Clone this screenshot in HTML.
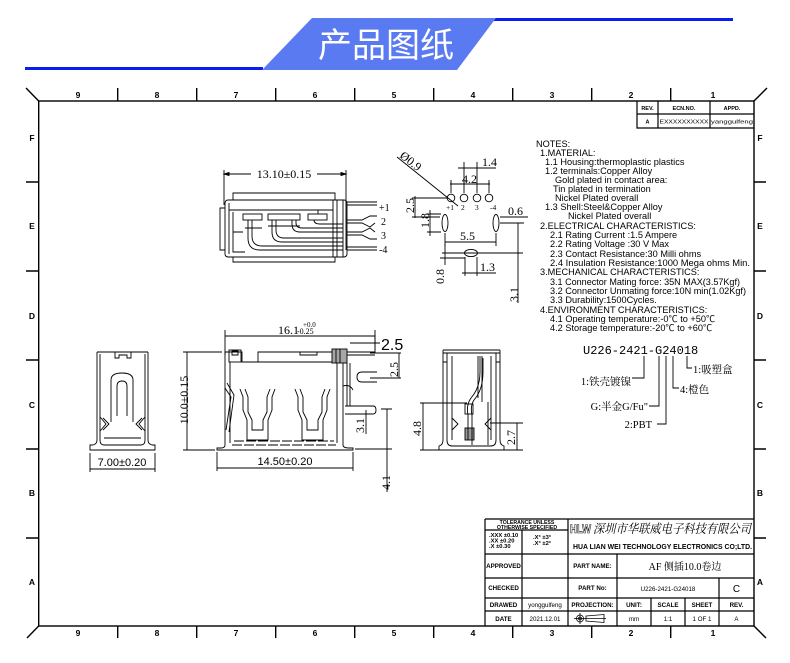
<!DOCTYPE html>
<html><head><meta charset="utf-8">
<style>
html,body{margin:0;padding:0;background:#fff;}
svg{display:block;}
</style></head><body>
<svg width="790" height="663" viewBox="0 0 790 663" xmlns="http://www.w3.org/2000/svg" font-family="Liberation Sans, Noto Sans CJK SC, sans-serif">
<rect width="790" height="663" fill="#fff"/>
<!-- Banner -->
<line x1="25" y1="68.5" x2="263" y2="68.5" stroke="#0a1ef2" stroke-width="3"/>
<line x1="494" y1="19.5" x2="733" y2="19.5" stroke="#0a1ef2" stroke-width="3"/>
<polygon points="312,18 496,18 457,70 262,70" fill="#5a7af2"/>
<text x="386" y="57" font-size="34" fill="#fff" text-anchor="middle" font-family="Noto Sans CJK SC, sans-serif">产品图纸</text>

<!-- Frame -->
<g stroke="#000" stroke-width="1.4" fill="none">
<rect x="38.7" y="101" width="715.3" height="525"/>
<line x1="26" y1="88" x2="38.7" y2="101"/>
<line x1="754" y1="101" x2="767" y2="88"/>
<line x1="38.7" y1="626" x2="27" y2="638"/>
<line x1="754" y1="626" x2="766" y2="638"/>
<path d="M117.7,88V101M196.7,88V101M275.7,88V101M354.7,88V101M433.7,88V101M512.7,88V101M591.7,88V101M670.7,88V101"/>
<path d="M117.7,626V638M196.7,626V638M275.7,626V638M354.7,626V638M433.7,626V638M512.7,626V638M591.7,626V638M670.7,626V638"/>
<path d="M26,182H38.7M26,271H38.7M26,360H38.7M26,449H38.7M26,538H38.7"/>
<path d="M754,182H766M754,271H766M754,360H766M754,449H766M754,538H766"/>
</g>
<g font-size="8.5" font-weight="bold" text-anchor="middle" fill="#000">
<text x="78" y="98">9</text><text x="157" y="98">8</text><text x="236" y="98">7</text><text x="315" y="98">6</text><text x="394" y="98">5</text><text x="473" y="98">4</text><text x="552" y="98">3</text><text x="631" y="98">2</text><text x="713" y="98">1</text>
<text x="78" y="636">9</text><text x="157" y="636">8</text><text x="236" y="636">7</text><text x="315" y="636">6</text><text x="394" y="636">5</text><text x="473" y="636">4</text><text x="552" y="636">3</text><text x="631" y="636">2</text><text x="713" y="636">1</text>
<text x="32" y="141">F</text><text x="32" y="229">E</text><text x="32" y="319">D</text><text x="32" y="408">C</text><text x="32" y="496">B</text><text x="32" y="585">A</text>
<text x="760" y="141">F</text><text x="760" y="229">E</text><text x="760" y="319">D</text><text x="760" y="408">C</text><text x="760" y="496">B</text><text x="760" y="585">A</text>
</g>

<!-- Revision table -->
<g stroke="#000" stroke-width="1.2" fill="none">
<path d="M637,101V128H754M637,114H754M658,101V128M710,101V128"/>
</g>
<g font-size="5.5" font-weight="bold" text-anchor="middle" fill="#000">
<text x="647.5" y="110">REV.</text><text x="684" y="110">ECN.NO.</text><text x="732" y="110">APPD.</text>
<text x="647.5" y="123.5">A</text>
</g>
<g font-size="5.5" text-anchor="middle" fill="#000">
<text x="684" y="123.5" textLength="49" lengthAdjust="spacingAndGlyphs">EXXXXXXXXXX</text>
<text x="732" y="123.5" textLength="42" lengthAdjust="spacingAndGlyphs">yanggulfeng</text>
</g>

<!-- Notes -->
<g font-size="9.2" fill="#000">
<text x="536" y="147">NOTES:</text>
<text x="540" y="156">1.MATERIAL:</text>
<text x="545" y="165">1.1 Housing:thermoplastic plastics</text>
<text x="545" y="174">1.2 terminals:Copper Alloy</text>
<text x="555" y="183">Gold plated in contact area:</text>
<text x="553" y="192">Tin plated in termination</text>
<text x="555" y="201">Nickel Plated overall</text>
<text x="545" y="210">1.3 Shell:Steel&amp;Copper Alloy</text>
<text x="568" y="219">Nickel Plated overall</text>
<text x="540" y="229">2.ELECTRICAL CHARACTERISTICS:</text>
<text x="550" y="238">2.1 Rating Current :1.5 Ampere</text>
<text x="550" y="247">2.2 Rating Voltage :30 V Max</text>
<text x="550" y="257">2.3 Contact Resistance:30 Milli ohms</text>
<text x="550" y="266" textLength="200" lengthAdjust="spacingAndGlyphs">2.4 Insulation Resistance:1000 Mega ohms Min.</text>
<text x="540" y="275">3.MECHANICAL CHARACTERISTICS:</text>
<text x="550" y="285" textLength="190" lengthAdjust="spacingAndGlyphs">3.1 Connector Mating force: 35N MAX(3.57Kgf)</text>
<text x="550" y="294" textLength="196" lengthAdjust="spacingAndGlyphs">3.2 Connector Unmating force:10N min(1.02Kgf)</text>
<text x="550" y="303">3.3 Durability:1500Cycles.</text>
<text x="540" y="313">4.ENVIRONMENT CHARACTERISTICS:</text>
<text x="550" y="322">4.1 Operating temperature:-0℃ to +50℃</text>
<text x="550" y="331">4.2 Storage temperature:-20℃ to +60℃</text>
</g>

<!-- Top view -->
<g stroke="#000" stroke-width="0.9" fill="none">
<path d="M224,170V205M346,170V250"/>
<path d="M224,174H251M317,174H346"/>
<path d="M224,174l5,-1.5v3zM346,174l-5,-1.5v3z" fill="#000"/>
<path d="M233,200V193H335V200"/>
<rect x="225" y="200" width="122" height="57" rx="3"/>
<path d="M225,208H220V250H225"/>
<path d="M233,257V262H335V257"/>
<path d="M229,203V254M229,210H333"/>
<rect x="243" y="214" width="19" height="6"/>
<rect x="268" y="214" width="32" height="6"/>
<rect x="308" y="214" width="19" height="6"/>
<path d="M333,200V257M337,200V257M343,200V257"/>
<path d="M233,212V252H245M233,232H243"/>
<path d="M248,220V238Q248,250 260,250H343M252,220V236Q252,246 262,246H343"/>
<path d="M272,220V232Q272,242 282,242H343M276,220V230Q276,238 284,238H343"/>
<path d="M292,220V224Q292,232 300,232H343M296,220V223Q296,228 302,228H343"/>
<path d="M314,220Q314,224 320,224H343M318,214V210H333"/>
<path d="M245,228H262M268,226H300"/>
<path d="M347,202H377M347,205H377"/>
<path d="M347,220H362L370,216H377M347,223H362L370,227L375,223"/>
<path d="M347,232H362L370,228L375,232M347,235H362L370,239H377"/>
<path d="M347,247H377M347,250H377"/>
</g>
<g font-size="10" font-family="Liberation Serif, serif" fill="#000">
<text x="379" y="211">+1</text><text x="381" y="225">2</text><text x="381" y="239">3</text><text x="379" y="253">-4</text>
</g>
<text x="284" y="178" font-size="12" font-family="Liberation Serif, serif" text-anchor="middle" fill="#000">13.10±0.15</text>

<!-- Footprint -->
<g stroke="#000" stroke-width="0.9" fill="none">
<circle cx="451" cy="198" r="3.8"/><circle cx="464" cy="198" r="3.8"/><circle cx="477" cy="198" r="3.8"/><circle cx="489" cy="198" r="3.8"/>
<path d="M397,157L458,206"/>
<path d="M464,193V162M477,193V162M458,168H496"/>
<path d="M451,193V180M489,193V180M450,184H490"/>
<path d="M412,198H447M415,196V218M412,217H440"/>
<ellipse cx="445" cy="223" rx="3" ry="8.5"/>
<ellipse cx="496" cy="223" rx="3" ry="8.5"/>
<path d="M427,214H441M427,232H441M430,210V236"/>
<path d="M500,217H528M518,223V303M500,223H524"/>
<path d="M445,233V246M496,233V246M445,242H496"/>
<path d="M442,253H523"/>
<ellipse cx="471" cy="253" rx="6.5" ry="3.6"/>
<path d="M440,258H465M445,244V265"/>
<path d="M465,257V276M477,257V276M462,273H496"/>
</g>
<g font-size="12" font-family="Liberation Serif, serif" fill="#000">
<text transform="translate(399,157) rotate(38)">Ø0.9</text>
<text x="482" y="166">1.4</text>
<text x="462" y="183">4.2</text>
<text transform="translate(414,213) rotate(-90)">2.5</text>
<text transform="translate(429,228) rotate(-90)">1.8</text>
<text x="508" y="215">0.6</text>
<text x="460" y="240">5.5</text>
<text transform="translate(444,284) rotate(-90)">0.8</text>
<text x="480" y="271">1.3</text>
<text transform="translate(518,302) rotate(-90)">3.1</text>
</g>
<g font-size="7.5" font-family="Liberation Serif, serif" fill="#000">
<text x="446" y="210">+1</text><text x="461" y="210">2</text><text x="475" y="210">3</text><text x="490" y="210">-4</text>
</g>

<!-- Left end view -->
<g stroke="#000" stroke-width="0.9" fill="none">
<path d="M97,352H148"/>
<path d="M97,352V440Q97,444 93,445H90V450H155V445H152Q148,444 148,440V352"/>
<path d="M100,354V440Q100,445 104,445H141Q145,445 145,440V354"/>
<path d="M115,352V358H119V355H127V358H131V352"/>
<path d="M111,422V380Q111,373 122,373Q133,373 133,380V422"/>
<path d="M117,416V386Q117,381 122,381Q127,381 127,386V416"/>
<path d="M100,417L106,424L100,431M103,418L109,424L103,430"/>
<path d="M145,417L139,424L145,431M142,418L136,424L142,430"/>
<path d="M104,438H141"/>
<path d="M90,453V472M155,453V472M90,469H155"/>
</g>
<text x="122" y="466" font-size="11" text-anchor="middle" fill="#000">7.00±0.20</text>

<!-- Front view -->
<g stroke="#000" stroke-width="0.9" fill="none">
<path d="M225,330V355M375,330V353M225,336H375"/>
<path d="M183,352H222M183,450H215M187,352V450"/>
<path d="M225,445V352H242V362H258V352H332"/>
<rect x="229" y="350" width="12" height="12"/>
<path d="M232,351H238V355H232z"/>
<path d="M300,352V355H317V352"/>
<rect x="332" y="349" width="15" height="14" fill="#000" fill-opacity="0.35"/>
<path d="M336,349V363M340,349V363"/>
<path d="M230,362V443M337,363V443M343,363V445"/>
<path d="M242,362H332"/>
<path d="M225,445Q225,448 221,448H217V450H353V448H349Q343,448 343,445"/>
<path d="M232,445H336M234,441H334" stroke-dasharray="10,2"/>
<path d="M227,383L234,395L229,432M225,388L231,397L226,430"/>
<path d="M240,389L243,397V410L247,420V440H268V420L272,410V397L275,389"/>
<path d="M245,389L248,397V412L252,420V430H263V420L267,412V397L270,389"/>
<path d="M295,389L298,397V410L302,420V440H323V420L327,410V397L330,389"/>
<path d="M300,389L303,397V412L307,420V430H318V420L322,412V397L325,389"/>
<path d="M347,352H375M347,355H375"/>
<path d="M377,372H362Q357,372 357,377Q357,382 362,382H377"/>
<path d="M343,386Q350,384 353,390"/>
<path d="M347,363V406M350,363V406"/>
<path d="M345,406H373Q376,406 376,410Q376,414 373,414H345"/>
<path d="M350,343H380M375,335V350"/>
<path d="M370,353H401M370,378H401M399,353V378"/>
<path d="M387,409V492M381,409H392M355,449H392"/>
<path d="M366,410V434"/>
<path d="M217,452V471M353,452V471M217,468H353"/>
</g>
<g font-size="12" font-family="Liberation Serif, serif" fill="#000">
<text transform="translate(188,400) rotate(-90)" text-anchor="middle">10.0±0.15</text>
<text x="278" y="334">16.1</text>
<text transform="translate(398,377) rotate(-90)">2.5</text>
<text transform="translate(364,433) rotate(-90)">3.1</text>
<text transform="translate(390,490) rotate(-90)">4.1</text>
</g>
<text x="297" y="334" font-size="8" font-family="Liberation Serif, serif" fill="#000">-0.25</text>
<text x="303" y="327" font-size="7" font-family="Liberation Serif, serif" fill="#000">+0.0</text>
<text x="381" y="350" font-size="16" fill="#000">2.5</text>
<text x="285" y="465" font-size="11" text-anchor="middle" fill="#000">14.50±0.20</text>

<!-- Right end view -->
<g stroke="#000" stroke-width="0.9" fill="none">
<path d="M443,350H500M443,353H500"/>
<path d="M443,350V440Q443,445 439,446V450M500,350V440Q500,445 504,446V450"/>
<path d="M447,353V440Q447,446 452,446H491Q496,446 496,440V353"/>
<path d="M443,362H447M496,362H500"/>
<path d="M452,356V440M491,356V440"/>
<path d="M478,356V398M482,356V402M488,402V445M472,440V445"/>
<path d="M480,356V372Q480,388 471,398Q466,405 468,415V440"/>
<path d="M483,358V372Q483,390 474,400Q470,406 472,415V440"/>
<rect x="465" y="404" width="8" height="10"/>
<rect x="465" y="428" width="9" height="12" fill="#000" fill-opacity="0.4"/>
<path d="M452,418L458,424L452,430M491,418L485,424L491,430"/>
<path d="M420,403H467M490,423H523M420,450H523"/>
<path d="M423,403V450M517,423V450"/>
</g>
<g font-size="12" font-family="Liberation Serif, serif" fill="#000">
<text transform="translate(421,436) rotate(-90)">4.8</text>
<text transform="translate(515,445) rotate(-90)">2.7</text>
</g>

<!-- Part number -->
<text x="583" y="354" font-size="12" font-family="Liberation Mono, monospace" fill="#000">U226-2421-G24018</text>
<g stroke="#000" stroke-width="0.9" fill="none">
<path d="M644,356V378H632"/>
<path d="M659,356V406H649"/>
<path d="M666,356V424H657"/>
<path d="M673,356V388H679"/>
<path d="M687,356V368H692"/>
</g>
<g font-size="10.5" font-family="Liberation Serif, Noto Serif CJK SC, serif" fill="#000">
<text x="631" y="385" text-anchor="end">1:铁壳镀镍</text>
<text x="648" y="410" text-anchor="end">G:半金G/Fu"</text>
<text x="652" y="428" text-anchor="end">2:PBT</text>
<text x="680" y="393">4:橙色</text>
<text x="693" y="373">1:吸塑盒</text>
</g>

<!-- Title block -->
<g stroke="#000" stroke-width="1.2" fill="none">
<path d="M485,519H754M485,519V626M485,530H568M485,554H754M485,578H754M485,598H754M485,611H754"/>
<path d="M522,530V626M568,519V626M617,554V626M651,598V626M685,598V626M719,578V626"/>
</g>
<g font-size="5.2" font-weight="bold" text-anchor="middle" fill="#000">
<text x="527" y="524">TOLERANCE UNLESS</text>
<text x="527" y="529">OTHERWISE SPECIFIED</text>
</g>
<g font-size="5.8" font-weight="bold" fill="#000">
<text x="489" y="537">.XXX ±0.10</text>
<text x="489" y="542.5">.XX   ±0.20</text>
<text x="489" y="548">.X     ±0.30</text>
<text x="533" y="539">.X°   ±3°</text>
<text x="533" y="545">.X°   ±2°</text>
</g>
<text x="570" y="533" font-size="12" font-weight="bold" fill="none" stroke="#000" stroke-width="0.6" textLength="21" lengthAdjust="spacingAndGlyphs">HLW</text>
<text x="593" y="533" font-size="12.5" font-style="italic" font-family="Noto Serif CJK SC, serif" fill="#000" textLength="158" lengthAdjust="spacingAndGlyphs">深圳市华联威电子科技有限公司</text>
<text x="573" y="549" font-size="7" font-weight="bold" fill="#000" textLength="179" lengthAdjust="spacingAndGlyphs">HUA LIAN WEI TECHNOLOGY ELECTRONICS CO;LTD.</text>
<g font-size="6.2" font-weight="bold" text-anchor="middle" fill="#000">
<text x="503.5" y="568">APPROVED</text>
<text x="503.5" y="590">CHECKED</text>
<text x="503.5" y="607">DRAWED</text>
<text x="503.5" y="621">DATE</text>
<text x="592.5" y="568">PART NAME:</text>
<text x="592.5" y="590">PART No:</text>
<text x="592.5" y="607">PROJECTION:</text>
<text x="634" y="607">UNIT:</text>
<text x="668" y="607">SCALE</text>
<text x="702" y="607">SHEET</text>
<text x="736.5" y="607">REV.</text>
</g>
<g font-size="6.2" text-anchor="middle" fill="#000">
<text x="545" y="607">yonggulfeng</text>
<text x="545" y="621">2021.12.01</text>
<text x="634" y="621">mm</text>
<text x="668" y="621">1:1</text>
<text x="702" y="621">1 OF 1</text>
<text x="736.5" y="621">A</text>
<text x="668" y="591">U226-2421-G24018</text>
</g>
<text x="736.5" y="592" font-size="10" text-anchor="middle" fill="#000">C</text>
<text x="685" y="570" font-size="10" text-anchor="middle" font-family="Liberation Serif, Noto Serif CJK SC, serif" fill="#000">AF 侧插10.0卷边</text>
<g stroke="#000" stroke-width="0.8" fill="none">
<circle cx="580" cy="618.5" r="3.5"/>
<circle cx="580" cy="618.5" r="1.5"/>
<path d="M574,618.5H606M580,613V624"/>
<path d="M586,616L604,614.5V622.5L586,621Z"/>
</g>
</svg>
</body></html>
